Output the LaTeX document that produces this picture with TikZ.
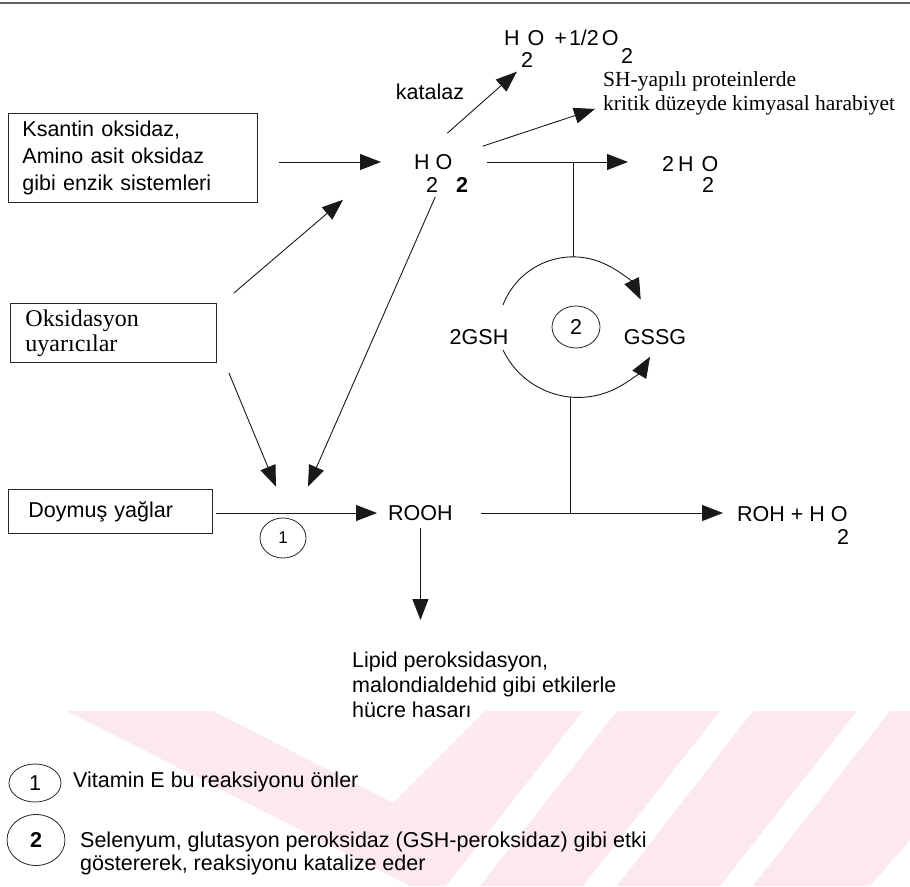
\documentclass[tikz,border=0pt]{standalone}
\usepackage{fontspec}
\setmainfont{Liberation Sans}
\newfontfamily\timesfont{Liberation Serif}
\usetikzlibrary{positioning,arrows.meta,shapes.geometric}
\definecolor{wmpink}{RGB}{252,233,237}
\definecolor{rulegray}{RGB}{95,95,95}

\begin{document}
\begin{tikzpicture}[
  x=1pt, y=-1pt,
  font=\fontsize{21.5}{27}\selectfont,
  >={Triangle[length=21pt,width=16pt]},
  box/.style={rectangle, draw=black!85, line width=0.9pt, anchor=north west,
    align=left, inner ysep=0pt},
  serif/.style={font=\timesfont\fontsize{21.5}{24}\selectfont},
  chem/.style={inner sep=0pt, anchor=west},
  sub/.style={inner sep=0pt},
  num/.style={ellipse, draw=black!85, line width=0.8pt, inner sep=0pt},
  ar/.style={->, line width=0.9pt, draw=black!90},
  ln/.style={line width=0.9pt, draw=black!90}
]
\useasboundingbox (0,0) rectangle (910,886);
% watermark
\fill[wmpink] (67,711) -- (213,711) -- (393,803) -- (485,711) -- (583,711)
  -- (446,886) -- (410,886) -- cycle;
\fill[wmpink] (617,711) -- (720,711) -- (583,886) -- (480,886) -- cycle;
\fill[wmpink] (753,711) -- (857,711) -- (720,886) -- (617,886) -- cycle;
\fill[wmpink] (890,711) -- (910,711) -- (910,840) -- (870,886) -- (753,886) -- cycle;
% top rule
\draw[rulegray, line width=1.6pt] (0,3) -- (910,3);

% Sources
\node[box, text width=221pt, inner xsep=14pt, minimum height=89pt] (ksantin) at (8,113)
  {Ksantin oksidaz,\\Amino asit oksidaz\\gibi enzik sistemleri};
\node[box, serif, font=\timesfont\fontsize{24}{25}\selectfont, text width=176pt,
      inner xsep=15pt, minimum height=59pt] (oks) at (10,303)
  {Oksidasyon\\uyarıcılar};
\node[box, text width=164pt, inner xsep=20pt, minimum height=44pt] (doymus) at (8,489)
  {Doymuş yağlar};

% Hydrogen peroxide and its products
\node[chem] (hoo) at (414,162) {H O};
\node[sub, anchor=west] (hoosub) at (426,185) {2\hspace{18pt}\textbf{2}};
\node[chem] (hotop) at (504,38) {H\hspace{8pt}O\hspace{10pt}+\hspace{2pt}1/2\hspace{3pt}O};
\node[sub] (hotopsub) at (527,60) {2};
\node[sub] (otopsub) at (627,56) {2};
\node[inner sep=0pt] (katalaz) at (430,92) {katalaz};
\node[serif, anchor=north west, align=left, inner sep=0pt] (sh) at (603,71)
  {SH-yapılı proteinlerde\\kritik düzeyde kimyasal harabiyet};
\node[chem] (hotwo) at (662,164) {2\hspace{4pt}H\hspace{8pt}O};
\node[sub] (hotwosub) at (708,185) {2};

% Glutathione cycle
\node[inner sep=0pt] (gsh) at (479,337) {2GSH};
\node[inner sep=0pt] (gssg) at (655,337) {GSSG};
\node[num, minimum width=48pt, minimum height=42pt] (c2) at (576,327) {2};

% Lipid line
\node[chem] (rooh) at (388,513) {ROOH};
\node[num, minimum width=46pt, minimum height=40pt, font=\fontsize{17}{20}\selectfont] (c1) at (283,538) {1};
\node[chem] (roh) at (737,514) {ROH + H O};
\node[sub] (rohsub) at (843,537) {2};
\node[anchor=north west, align=left, inner sep=0pt,
      font=\fontsize{21.5}{25}\selectfont] (lipid) at (352,652)
  {Lipid peroksidasyon,\\malondialdehid gibi etkilerle\\hücre hasarı};

% Legend
\node[num, minimum width=52pt, minimum height=38pt] (leg1) at (35,783) {1};
\node[anchor=west, inner sep=0pt] (leg1txt) at (73,782) {Vitamin E bu reaksiyonu önler};
\node[num, minimum width=58pt, minimum height=51pt] (leg2) at (36,840) {\textbf{2}};
\node[anchor=north west, align=left, inner sep=0pt,
      font=\fontsize{21.5}{23}\selectfont] (leg2txt) at (80,832)
  {Selenyum, glutasyon peroksidaz (GSH-peroksidaz) gibi etki\\göstererek, reaksiyonu katalize eder};

% arrows into H2O2
\draw[ar, shorten <=21pt, shorten >=33pt] (ksantin.east |- hoo.west) -- (hoo.west);
\draw[ar] ([shift={(17,-10)}]oks.north east) -- ([shift={(-71,30)}]hoo.south west);
% out of H2O2
\draw[ar] ([shift={(14,-21)}]hoo.north) -- ([shift={(-4,4)}]hotopsub.south west);
\draw[ar] ([shift={(30,-8)}]hoo.north east) -- ([shift={(-8,-6)}]sh.south west);
\draw[ar, shorten <=34pt, shorten >=34pt] (hoo.east) -- (hoo.east -| hotwo.west);
\draw[ar] ([shift={(2,27)}]hoo.south) -- ([shift={(25,-31)}]c1.north);
\draw[ar] ([shift={(12,10)}]oks.south east) -- ([shift={(-7,-31)}]c1.north);
% lipid line
\draw[ar, shorten <=3pt, shorten >=11pt] (doymus.east |- rooh.west) -- (rooh.west);
\draw[ar, shorten <=7pt, shorten >=32pt] (rooh.south) -- (rooh.south |- lipid.north);
\draw[ar, shorten <=28pt, shorten >=14pt] (rooh.east) -- (rooh.east -| roh.west);
% GSH cycle
\coordinate (jtop) at (573,163);
\coordinate (upA) at (503,305);
\coordinate (loA) at (503,350);
\coordinate (jbot) at (570,397);
\draw[ln] (jtop) -- (573,257);
\draw[ar] (upA) arc[start angle=201, end angle=334.5, radius=75];
\draw[ar] (loA) arc[start angle=154.4, end angle=30.8, radius=83.5];
\draw[ln] (jbot) -- (jbot |- rooh.east);
\end{tikzpicture}
\end{document}
